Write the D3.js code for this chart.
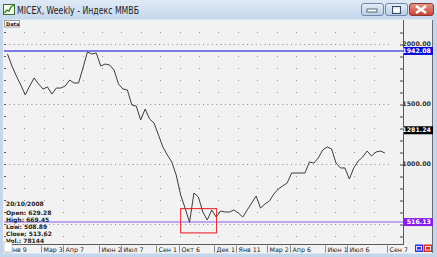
<!DOCTYPE html>
<html>
<head>
<meta charset="utf-8">
<script src="https://cdn.jsdelivr.net/npm/d3@7"></script>
<style>
  body { margin: 0; background: #c6d9ee; overflow: hidden; }
  text { font-family: "DejaVu Sans", sans-serif; }
</style>
</head>
<body>
<div id="chart"></div>
<script>
// data (weekly closes, Jan 2008 - Aug 2009)
const closes = [
  1917, 1817, 1733, 1658, 1575, 1650, 1717, 1667, 1625, 1642,
  1583, 1633, 1633, 1650, 1700, 1675, 1675, 1800, 1933, 1917,
  1925, 1817, 1833, 1825, 1783, 1667, 1625, 1617, 1492, 1483,
  1367, 1458, 1375, 1342, 1242, 1142, 1075, 1017, 908, 742,
  633, 514, 758, 725, 600, 533, 617, 558, 608, 600,
  600, 617, 592, 558, 617, 675, 733, 633, 667, 692,
  750, 792, 817, 842, 925, 925, 925, 925, 1017, 1008,
  1050, 1117, 1142, 1125, 1008, 967, 967, 875, 967, 1025,
  1058, 1108, 1067, 1100, 1108, 1092
];
const tickWeeks = [0, 8, 13, 21, 26, 34, 39, 47, 52, 59, 64, 72, 77, 86];
const tickLabels = ["Янв 9", "Мар 3", "Апр 7", "Июн 2", "Июл 7", "Сен 1", "Окт 6",
  "Дек 1", "Янв 11", "Мар 2", "Апр 6", "Июн 1", "Июл 6", "Сен 7"];
const priceLabels = [1000, 1500, 2000];
const markerValues = [1942.08, 1281.24, 516.13];
const markerColors = ["#0a0ad8", "#000000", "#8a1ee8"];
const infoLines = ["20/10/2008", "Open: 629.28", "High: 669.45", "Low: 508.89", "Close: 513.62", "Vol.: 78144"];
const highlightWeeks = [38.9, 47];
const highlightValues = [430, 632];

(function () {
  // config
  const width = 437;
  const height = 257;
  const plot = { left: 4, right: 403, top: 20, bottom: 244 };

  // scales
  const xScale = d3.scaleLinear().domain([0, 86]).range([7.5, 389.3]);
  const yScale = d3.scaleLinear().domain([1000, 2000]).range([164, 44]);

  const svg = d3.select("#chart")
    .append("svg")
    .attr("width", width)
    .attr("height", height);

  const defs = svg.append("defs");
  const grad = defs.append("linearGradient").attr("id", "title").attr("x1", 0).attr("y1", 0).attr("x2", 0).attr("y2", 1);
  grad.append("stop").attr("offset", "0%").attr("stop-color", "#dfe9f5");
  grad.append("stop").attr("offset", "100%").attr("stop-color", "#c4d7ed");
  const btn = defs.append("linearGradient").attr("id", "btn").attr("x1", 0).attr("y1", 0).attr("x2", 0).attr("y2", 1);
  btn.append("stop").attr("offset", "0%").attr("stop-color", "#e6eef8");
  btn.append("stop").attr("offset", "100%").attr("stop-color", "#b9cde6");
  const red = defs.append("linearGradient").attr("id", "red").attr("x1", 0).attr("y1", 0).attr("x2", 0).attr("y2", 1);
  red.append("stop").attr("offset", "0%").attr("stop-color", "#e69a8c");
  red.append("stop").attr("offset", "100%").attr("stop-color", "#c7402f");
  defs.append("clipPath").attr("id", "clip")
    .append("rect")
    .attr("x", plot.left).attr("y", plot.top)
    .attr("width", plot.right - plot.left).attr("height", plot.bottom - plot.top);

  // window frame
  svg.append("rect").attr("width", width).attr("height", height).attr("fill", "#c3d6ec");
  svg.append("rect").attr("width", width).attr("height", 20).attr("fill", "url(#title)");

  // title icon
  svg.append("rect").attr("x", 3.5).attr("y", 4.5).attr("width", 11).attr("height", 10)
    .attr("fill", "#f4f8ee").attr("stroke", "#3d6b2a");
  svg.append("path").attr("d", "M4.5,13 L7,10 L9,11 L11,7 L14,5")
    .attr("fill", "none").attr("stroke", "#2f8f1f").attr("stroke-width", 1.4);

  svg.append("text")
    .attr("x", 17).attr("y", 14)
    .attr("font-family", "'Noto Sans', sans-serif")
    .attr("font-size", 11)
    .attr("textLength", 122).attr("lengthAdjust", "spacingAndGlyphs")
    .attr("fill", "#1b1b1b")
    .text("MICEX, Weekly - Индекс ММВБ");

  // window buttons
  const buttons = [[361, 22, "url(#btn)", "#6f87a8"], [385, 22, "url(#btn)", "#6f87a8"], [409, 24, "url(#red)", "#8b3a32"]];
  svg.selectAll("rect.btn")
    .data(buttons)
    .join("rect")
    .attr("class", "btn")
    .attr("x", d => d[0] + 0.5).attr("y", 3.5)
    .attr("width", d => d[1]).attr("height", 12).attr("rx", 2.5)
    .attr("fill", d => d[2]).attr("stroke", d => d[3]);
  svg.append("rect").attr("x", 367).attr("y", 9).attr("width", 10).attr("height", 3)
    .attr("fill", "#fff").attr("stroke", "#3a4a62").attr("stroke-width", 0.8);
  svg.append("rect").attr("x", 392.5).attr("y", 6.5).attr("width", 8).attr("height", 7)
    .attr("fill", "none").attr("stroke", "#3a4a62").attr("stroke-width", 1);
  svg.append("rect").attr("x", 393.5).attr("y", 8.5).attr("width", 6).attr("height", 4)
    .attr("fill", "#fff");
  svg.append("path").attr("d", "M416,6 L426,13 M426,6 L416,13")
    .attr("stroke", "#fff").attr("stroke-width", 2.6);

  // client area
  svg.append("rect").attr("x", 3).attr("y", 19.5).attr("width", 430).attr("height", 234)
    .attr("fill", "#f2f2f2");
  svg.append("rect").attr("x", plot.right).attr("y", 19.5).attr("width", 29.5).attr("height", 225)
    .attr("fill", "#f0f0f0");

  // grid: dotted rows at every 100, dense at every 500
  const gridValues = d3.range(400, 2200, 100);
  const gridCols = d3.range(xScale.invert(5), xScale.invert(389), 4.37);
  const grid = svg.append("g").attr("clip-path", "url(#clip)");
  gridValues.filter(v => v % 500 === 0).forEach(v => {
    grid.append("line")
      .attr("x1", 5).attr("x2", 389)
      .attr("y1", yScale(v) + 0.5).attr("y2", yScale(v) + 0.5)
      .attr("stroke", "#8c8c8c").attr("stroke-dasharray", "1,3.4");
  });
  gridValues.filter(v => v % 500 !== 0).forEach(v => {
    grid.selectAll(null)
      .data(gridCols)
      .join("rect")
      .attr("x", d => Math.round(xScale(d)))
      .attr("y", Math.round(yScale(v)))
      .attr("width", 1).attr("height", 1)
      .attr("fill", "#9a9a9a");
  });

  // left inner ticks
  svg.selectAll("line.lt")
    .data(gridValues)
    .join("line")
    .attr("class", "lt")
    .attr("x1", plot.left).attr("x2", plot.left + 2)
    .attr("y1", d => yScale(d) + 0.5).attr("y2", d => yScale(d) + 0.5)
    .attr("stroke", "#555");

  // marker lines
  svg.append("line")
    .attr("x1", plot.left).attr("x2", plot.right)
    .attr("y1", yScale(markerValues[0])).attr("y2", yScale(markerValues[0]))
    .attr("stroke", "#7b7be6").attr("stroke-width", 2);
  svg.append("line")
    .attr("x1", plot.left).attr("x2", plot.right)
    .attr("y1", yScale(markerValues[2])).attr("y2", yScale(markerValues[2]))
    .attr("stroke", "#b38cf0").attr("stroke-width", 1.6);

  // price line
  const line = d3.line()
    .x((d, i) => xScale(i))
    .y(d => yScale(d));

  svg.append("path")
    .attr("clip-path", "url(#clip)")
    .attr("d", line(closes))
    .attr("fill", "none")
    .attr("stroke", "#3c3c3c")
    .attr("stroke-width", 1)
    .attr("stroke-linejoin", "round");

  // red highlight box
  svg.append("rect")
    .attr("x", xScale(highlightWeeks[0]) + 0.5)
    .attr("y", yScale(highlightValues[1]) + 0.5)
    .attr("width", xScale(highlightWeeks[1]) - xScale(highlightWeeks[0]))
    .attr("height", yScale(highlightValues[0]) - yScale(highlightValues[1]))
    .attr("fill", "none")
    .attr("stroke", "#e8141e")
    .attr("stroke-width", 1);

  // info block
  svg.selectAll("text.info")
    .data(infoLines)
    .join("text")
    .attr("class", "info")
    .attr("x", 6)
    .attr("y", (d, i) => i === 0 ? 205.5 : 207.5 + i * 7)
    .attr("font-size", 6)
    .attr("font-weight", "bold")
    .attr("fill", "#222")
    .text(d => d);

  // data tab
  svg.append("rect").attr("x", 4.5).attr("y", 20.5).attr("width", 15).attr("height", 6.5)
    .attr("fill", "#fafafa").attr("stroke", "#777").attr("stroke-width", 0.7);
  svg.append("text").attr("x", 6).attr("y", 26).attr("font-size", 5).attr("font-weight", "bold")
    .attr("fill", "#111").text("Data");

  // right axis
  const yAxis = d3.axisLeft(yScale)
    .tickValues(gridValues)
    .tickSize(3)
    .tickFormat("");
  svg.append("g")
    .attr("transform", `translate(${plot.right},0.5)`)
    .call(yAxis)
    .call(g => g.select(".domain").remove())
    .call(g => g.selectAll(".tick line").attr("stroke", "#444"));

  svg.append("line")
    .attr("x1", plot.right + 0.5).attr("x2", plot.right + 0.5)
    .attr("y1", plot.top).attr("y2", plot.bottom + 1)
    .attr("stroke", "#5a5a5a");
  svg.append("line")
    .attr("x1", 432.5).attr("x2", 432.5)
    .attr("y1", plot.top).attr("y2", 253)
    .attr("stroke", "#6d6d6d");

  svg.selectAll("text.price")
    .data(priceLabels)
    .join("text")
    .attr("class", "price")
    .attr("x", 431)
    .attr("y", d => yScale(d) + 2.2)
    .attr("text-anchor", "end")
    .attr("font-size", 6.3)
    .attr("font-weight", "bold")
    .attr("fill", "#333")
    .text(d => d3.format(".2f")(d));

  // value tags
  const tags = svg.selectAll("g.tag")
    .data(markerValues)
    .join("g")
    .attr("class", "tag");
  tags.append("rect")
    .attr("x", plot.right + 1)
    .attr("y", d => yScale(d) - 4)
    .attr("width", 29)
    .attr("height", 8)
    .attr("fill", (d, i) => markerColors[i]);
  tags.append("text")
    .attr("x", 431)
    .attr("y", d => yScale(d) + 2.2)
    .attr("text-anchor", "end")
    .attr("font-size", 6.3)
    .attr("font-weight", "bold")
    .attr("fill", "#fff")
    .text(d => d3.format(".2f")(d));

  // bottom axis
  svg.append("line")
    .attr("x1", plot.left).attr("x2", plot.right + 1)
    .attr("y1", plot.bottom + 0.5).attr("y2", plot.bottom + 0.5)
    .attr("stroke", "#5a5a5a");

  const xTicks = svg.selectAll("g.xt")
    .data(tickWeeks)
    .join("g")
    .attr("class", "xt")
    .attr("transform", d => `translate(${Math.round(xScale(d)) - 1.5},0)`);
  xTicks.append("line")
    .attr("y1", 245.5).attr("y2", 252.5)
    .attr("stroke", "#8a8a8a");
  xTicks.append("text")
    .attr("x", 2)
    .attr("y", 251.5)
    .attr("font-size", 6.3)
    .attr("fill", "#222")
    .text((d, i) => tickLabels[i]);

  // corner box and little buttons
  svg.append("rect").attr("x", 4).attr("y", 242).attr("width", 8).attr("height", 10)
    .attr("fill", "#fff").attr("stroke", "#999").attr("stroke-width", 0.5);
  svg.append("rect").attr("x", 415).attr("y", 244.5).attr("width", 8).attr("height", 7.5).attr("fill", "#3434d8");
  svg.append("rect").attr("x", 423.5).attr("y", 244.5).attr("width", 8.5).attr("height", 7.5).attr("fill", "#d83030");
  svg.append("rect").attr("x", 416.5).attr("y", 246.5).attr("width", 5).attr("height", 3.5)
    .attr("fill", "none").attr("stroke", "#fff").attr("stroke-width", 0.8);
  svg.append("rect").attr("x", 425.5).attr("y", 246.5).attr("width", 5).attr("height", 3.5)
    .attr("fill", "none").attr("stroke", "#fff").attr("stroke-width", 0.8);
})();
</script>
</body>
</html>
